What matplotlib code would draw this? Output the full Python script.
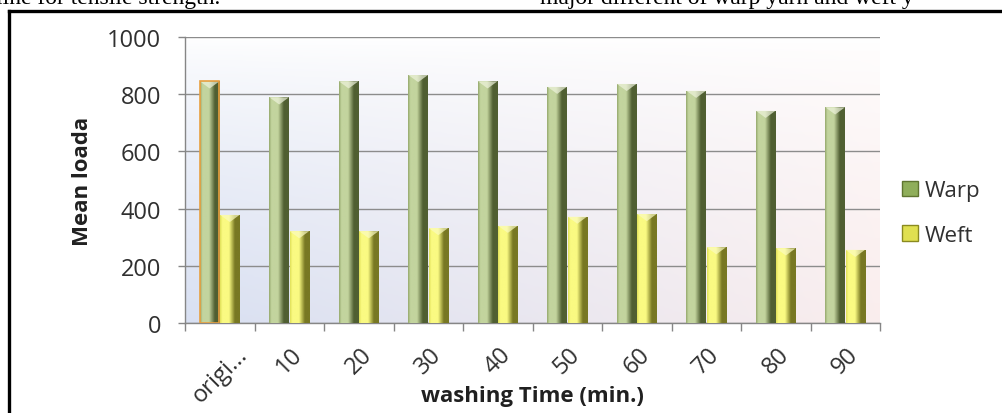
import numpy as np
import matplotlib.pyplot as plt
from matplotlib.patches import Patch
from matplotlib.lines import Line2D

# data
categories = ['origi...', '10', '20', '30', '40', '50', '60', '70', '80', '90']
warp = [845, 789, 845, 867, 845, 826, 836, 812, 742, 754]
weft = [378, 321, 321, 332, 340, 372, 381, 265, 261, 256]

plt.rcParams['font.family'] = ['Open Sans', 'DejaVu Sans']

fig = plt.figure(figsize=(10.02, 4.14), dpi=100)
ax = fig.add_axes([185 / 1002, 1 - 324 / 414, 695 / 1002, 286 / 414])

x = np.arange(len(categories))
bw = 0.28
off = 0.145

# horizontal shading across each bar (bevel look)
def shade(c_edge, c_light, c_dark):
    u = np.linspace(0, 1, 64)
    stops = [0.0, 0.12, 0.45, 0.75, 1.0]
    cols = np.array([c_edge, c_light, c_light, c_dark, c_dark]) / 255.0
    g = np.stack([np.interp(u, stops, cols[:, k]) for k in range(3)], axis=-1)
    return g[np.newaxis, :, :]

warp_grad = shade((150, 170, 110), (195, 212, 158), (80, 95, 50))
weft_grad = shade((225, 225, 90), (250, 250, 130), (120, 120, 35))

bars_w = ax.bar(x - off, warp, bw, color='#9bbb59', zorder=2)
bars_f = ax.bar(x + off, weft, bw, color='#e6e65a', zorder=2)

for bars, grad, tip in [(bars_w, warp_grad, '#eef3dc'), (bars_f, weft_grad, '#fbfbc0')]:
    for p in bars:
        x0, w, h = p.get_x(), p.get_width(), p.get_height()
        im = ax.imshow(grad, extent=[x0, x0 + w, 0, h], aspect='auto', zorder=3)
        im.set_clip_path(p)
        # light triangle on top of the bar
        ax.fill([x0, x0 + w, x0 + w / 2], [h, h, h - 25], color=tip, alpha=0.7,
                zorder=4, lw=0)

# the first warp bar has an orange outline
bars_w[0].set_edgecolor('#e8a040')
bars_w[0].set_linewidth(1.2)
bars_w[0].set_zorder(5)
bars_w[0].set_facecolor('none')

ax.set_xlim(-0.5, len(categories) - 0.5)
ax.set_ylim(0, 1000)

# plot area background: white at top, bluish lower left, pinkish lower right
ny, nx = 100, 100
t = np.linspace(0, 1, ny)[:, None, None]
s = np.linspace(0, 1, nx)[None, :, None]
blue = np.array([0.85, 0.88, 0.95])
pink = np.array([0.98, 0.93, 0.93])
white = np.array([1.0, 1.0, 1.0])
low = blue * (1 - s) + pink * s
bg = white * (1 - t ** 0.7) + low * t ** 0.7
ax.imshow(bg, extent=[-0.5, len(categories) - 0.5, 0, 1000], origin='upper',
          aspect='auto', zorder=0)

ax.set_yticks(range(0, 1001, 200))
ax.yaxis.grid(True, color='#8c8c8c', linewidth=1.0)
ax.set_axisbelow(True)
for gl in ax.get_ygridlines():
    gl.set_zorder(1)

ax.set_xticks(x)
ax.set_xticklabels(categories, rotation=45, ha='center', va='top')
ax.set_xticks(np.arange(-0.5, len(categories)), minor=True)
ax.tick_params(axis='x', which='major', length=0, pad=14, labelsize=17, labelcolor='#303030')
ax.tick_params(axis='x', which='minor', length=6, color='#868686', width=1)
ax.tick_params(axis='y', length=5, color='#868686', width=1, pad=12, labelsize=17,
               labelcolor='#303030')

for side in ['top', 'right']:
    ax.spines[side].set_visible(False)
for side in ['left', 'bottom']:
    ax.spines[side].set_color('#868686')
    ax.spines[side].set_linewidth(1.0)

ax.set_ylabel('Mean loada', fontsize=16, fontweight='bold', color='#202020', va='center')
ax.yaxis.set_label_coords(-103 / 695, 0.5)
ax.set_xlabel('washing Time (min.)', fontsize=16, fontweight='bold', color='#202020')
ax.xaxis.set_label_coords(0.5, -62 / 286)
ax.xaxis.label.set_va('top')

handles = [Patch(facecolor='#8fae5a', edgecolor='#5f7530', label='Warp'),
           Patch(facecolor='#e0e050', edgecolor='#8a8a20', label='Weft')]
fig.legend(handles=handles, loc='center left', bbox_to_anchor=(882 / 1002, 1 - 214 / 414),
           frameon=False, fontsize=16, handlelength=0.7, handleheight=0.7,
           handletextpad=0.3, labelspacing=1.05, labelcolor='#303030')

# page frame and cut-off text from the surrounding document
fig.add_artist(Line2D([8.5 / 1002, 8.5 / 1002], [-0.1, 1 - 11.5 / 414], color='black',
                      linewidth=2.4, transform=fig.transFigure))
fig.add_artist(Line2D([8.5 / 1002, 1.05], [1 - 11.5 / 414, 1 - 11.5 / 414], color='black',
                      linewidth=2.4, transform=fig.transFigure))
fig.text(-4 / 1002, 1 - 4 / 414, 'line for tensile strength.', family='Liberation Serif',
         fontsize=17, va='baseline', ha='left')
fig.text(540 / 1002, 1 - 4 / 414, 'major different of warp yarn and weft y',
         family='Liberation Serif', fontsize=17, va='baseline', ha='left')

fig.savefig('out.png', dpi=100)
